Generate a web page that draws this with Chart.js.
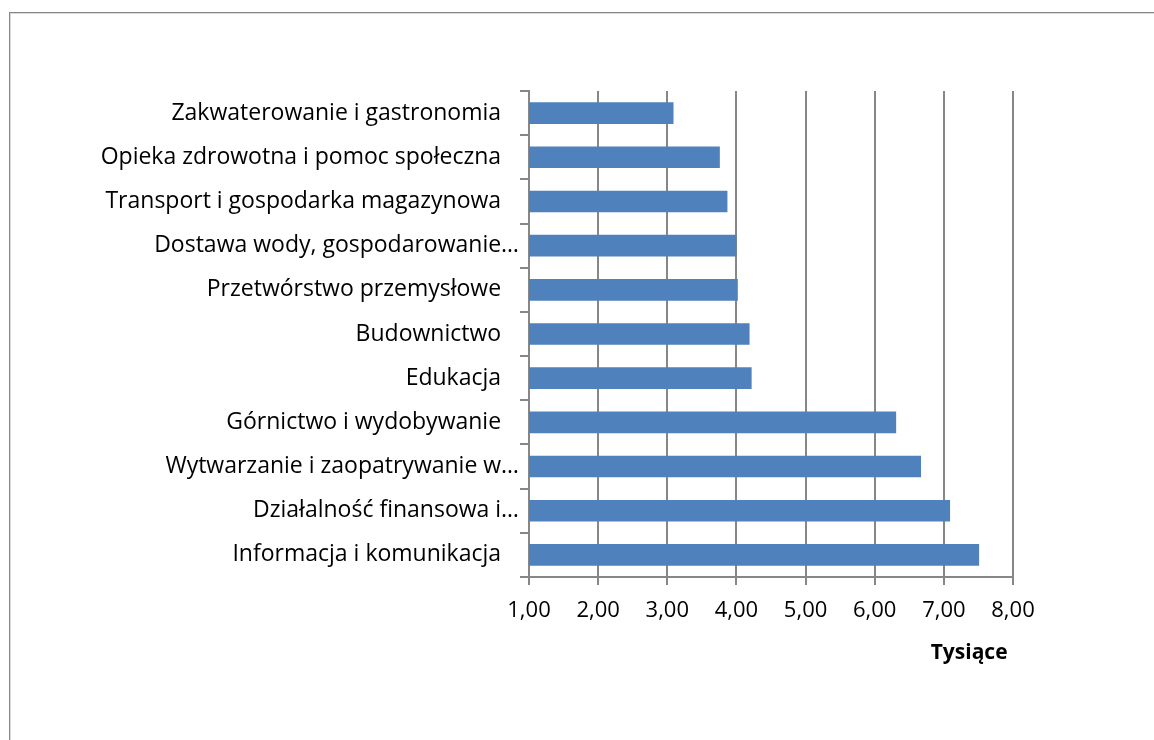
<!DOCTYPE html>
<html lang="pl">
<head>
    <meta charset="UTF-8">
    <title>Tysiące – wykres słupkowy</title>
    <style>
        html, body {
            margin: 0;
            padding: 0;
            width: 1154px;
            height: 740px;
            overflow: hidden;
            background-color: #ffffff;
        }
        /* frame around the chart, cut off at the right and bottom like the original */
        #frame {
            position: absolute;
            left: 9px;
            top: 12px;
            width: 1300px;
            height: 900px;
            border-left: 1px solid #888888;
            border-top: 1px solid #888888;
            box-shadow: inset 1px 1px 0 #d9d9d9;
        }
        #chart {
            position: absolute;
            left: 0;
            top: 0;
        }
    </style>
</head>
<body>
    <div id="frame"></div>
    <canvas id="chart" width="1154" height="740"></canvas>

    <script src="https://cdn.jsdelivr.net/npm/chart.js"></script>
    <script>
        // Data (values in thousands)
        const categories = [
            'Zakwaterowanie i gastronomia',
            'Opieka zdrowotna i pomoc społeczna',
            'Transport i gospodarka magazynowa',
            'Dostawa wody, gospodarowanie…',
            'Przetwórstwo przemysłowe',
            'Budownictwo',
            'Edukacja',
            'Górnictwo i wydobywanie',
            'Wytwarzanie i zaopatrywanie w…',
            'Działalność finansowa i…',
            'Informacja i komunikacja'
        ];
        const values = [3.09, 3.76, 3.87, 4.00, 4.02, 4.19, 4.22, 6.31, 6.67, 7.09, 7.51];
        const xTicks = [1, 2, 3, 4, 5, 6, 7, 8];
        const xTitle = 'Tysiące';

        const FONT = '"Open Sans", "Noto Sans", sans-serif';
        const GRID = '#878787';

        const ctx = document.getElementById('chart').getContext('2d');

        new Chart(ctx, {
            type: 'bar',
            data: {
                labels: categories,
                datasets: [{
                    data: values,
                    backgroundColor: '#4f81bd',
                    borderWidth: 0,
                    barPercentage: 0.49,
                    categoryPercentage: 1.0
                }]
            },
            options: {
                indexAxis: 'y',
                responsive: false,
                animation: false,
                layout: {
                    padding: { top: 91, right: 141, bottom: 0, left: 0 }
                },
                plugins: {
                    legend: { display: false },
                    tooltip: { enabled: false }
                },
                scales: {
                    x: {
                        min: xTicks[0],
                        max: xTicks[xTicks.length - 1],
                        afterBuildTicks: scale => {
                            scale.ticks = xTicks.map(v => ({ value: v }));
                        },
                        afterFit: scale => { scale.height = 163; },
                        grid: {
                            color: GRID,
                            lineWidth: 2,
                            tickLength: 8
                        },
                        border: { color: GRID, width: 2 },
                        ticks: {
                            color: '#000000',
                            padding: 13,
                            font: { family: FONT, size: 22 },
                            callback: v => v.toFixed(2).replace('.', ',')
                        },
                        title: {
                            display: true,
                            text: xTitle + ' ',
                            align: 'end',
                            color: '#000000',
                            font: { family: FONT, size: 21, weight: 'bold' },
                            padding: { top: 0, bottom: 74 }
                        }
                    },
                    y: {
                        afterFit: scale => { scale.width = 529; },
                        grid: {
                            offset: true,
                            drawOnChartArea: false,
                            color: GRID,
                            lineWidth: 2,
                            tickLength: 9
                        },
                        border: { color: GRID, width: 2 },
                        ticks: {
                            color: '#000000',
                            padding: 1,
                            font: { family: FONT, size: 23 },
                            // full labels carry trailing spaces in the source, truncated ones do not
                            callback: function (v) {
                                const t = this.getLabelForValue(v);
                                return t.endsWith('…') ? t : t + '   ';
                            }
                        }
                    }
                }
            }
        });
    </script>
</body>
</html>
